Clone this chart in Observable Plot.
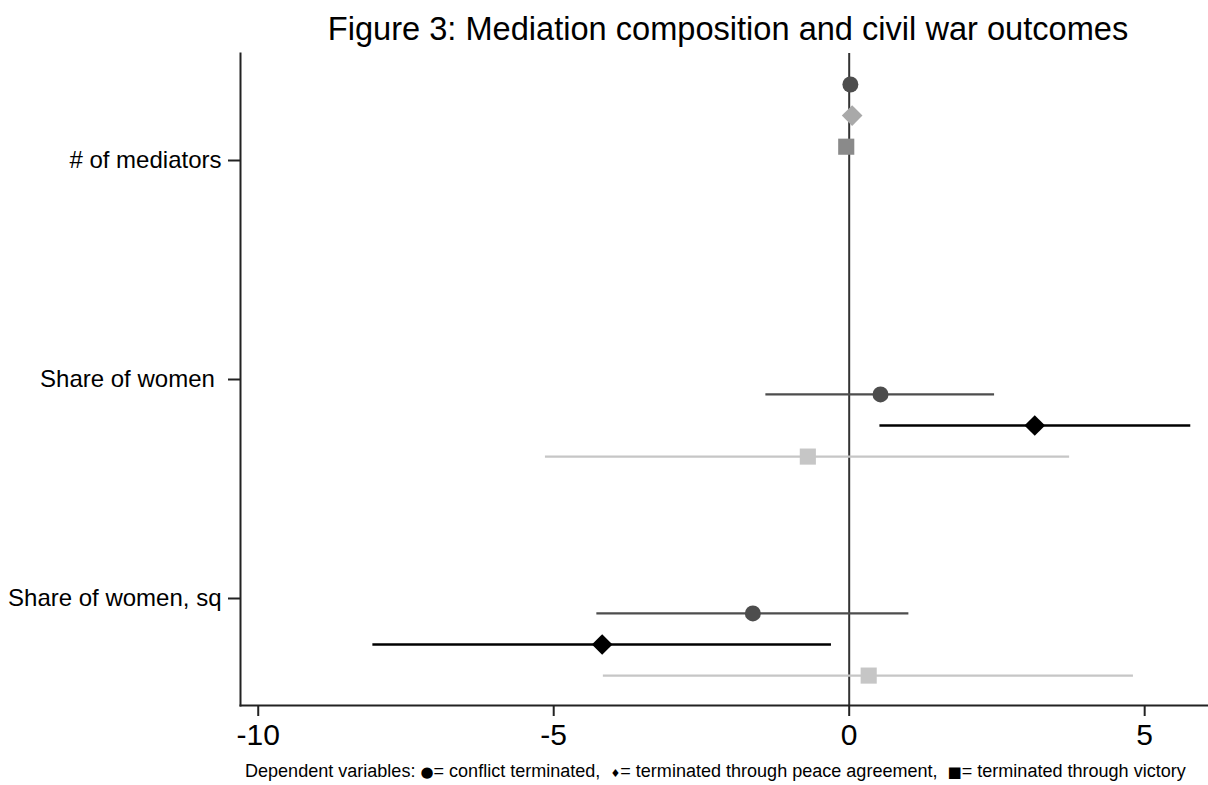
<!DOCTYPE html>
<html>
<head>
<meta charset="utf-8">
<script src="https://cdn.jsdelivr.net/npm/d3@7"></script>
<script src="https://cdn.jsdelivr.net/npm/@observablehq/plot@0.6"></script>
<style>
  html, body { margin: 0; padding: 0; background: #fff; }
  #wrap { position: relative; width: 1208px; height: 785px; overflow: hidden; font-family: "Liberation Sans", Arial, Helvetica, sans-serif; color: #000; }
  #title { position: absolute; top: 13px; left: 244px; width: 968px; text-align: center; font-size: 32.6px; line-height: 32px; white-space: nowrap; }
  #chart { position: absolute; top: 0; left: 0; }
  #caption { position: absolute; top: 762px; left: 245px; font-size: 18.05px; line-height: 18px; white-space: pre; }
  #caption .sym { font-family: "DejaVu Sans", sans-serif; font-size: 15px; }
</style>
</head>
<body>
<div id="wrap">
  <div id="chart"></div>
  <div id="title">Figure 3: Mediation composition and civil war outcomes</div>
  <div id="caption">Dependent variables: <span class="sym">●</span>= conflict terminated,  <span class="sym" style="font-size:11px">♦</span>= terminated through peace agreement,  <span class="sym">■</span>= terminated through victory</div>
</div>
<script>
// ---- data (coefficients and confidence intervals) ----
const terms = ["# of mediators", "Share of women\u00a0", "Share of women, sq"];
const outcomes = ["conflict terminated", "terminated through peace agreement", "terminated through victory"];

const coefConflict = [0.02, 0.53, -1.63];
const loConflict   = [-0.01, -1.41, -4.27];
const hiConflict   = [0.05, 2.46, 1.01];

const coefPeace = [0.05, 3.14, -4.18];
const loPeace   = [0.02, 0.52, -8.06];
const hiPeace   = [0.08, 5.78, -0.30];

const coefVictory = [-0.05, -0.70, 0.33];
const loVictory   = [-0.08, -5.14, -4.16];
const hiVictory   = [-0.02, 3.73, 4.81];

const xTicks = [-10, -5, 0, 5];
const xTickLabels = ["-10", "-5", "0", "5"];

// ---- layout / style (not data) ----
const seriesOffset = [0.068, 0.21, 0.352];      // vertical stacking of the three models within a term
const rowShift = [-0.415, 0, 0];                 // coefplot placement of the first term
const symbols = ["circle", "diamond2", "square"];
const radii = [8, 9.3, 9.1];
const colors = [
  ["#4d4d4d", "#a9a9a9", "#8a8a8a"],
  ["#4d4d4d", "#000000", "#c6c6c6"],
  ["#4d4d4d", "#000000", "#c6c6c6"]
];

const series = [
  {coef: coefConflict, lo: loConflict, hi: hiConflict},
  {coef: coefPeace, lo: loPeace, hi: hiPeace},
  {coef: coefVictory, lo: loVictory, hi: hiVictory}
];

const points = [];
terms.forEach((t, i) => {
  series.forEach((s, k) => {
    points.push({
      term: t, outcome: outcomes[k], k,
      est: s.coef[i], lo: s.lo[i], hi: s.hi[i],
      pos: (i + 1) + rowShift[i] + seriesOffset[k],
      col: colors[i][k]
    });
  });
});

const chart = Plot.plot({
  width: 1208,
  height: 760,
  marginLeft: 240,
  marginRight: 0,
  marginTop: 53,
  marginBottom: 55,
  style: {fontFamily: '"Liberation Sans", Arial, Helvetica, sans-serif', color: "#000", background: "#fff", overflow: "visible"},
  x: {domain: [-10.3, 6.08]},
  y: {domain: [0.5114, 3.4886], reverse: true},
  color: {type: "identity"},
  marks: [
    Plot.ruleX([0], {stroke: "#333", strokeWidth: 2}),
    Plot.ruleY(points, {y: "pos", x1: "lo", x2: "hi", stroke: "col", strokeWidth: 2.3}),
    ...symbols.map((sym, k) =>
      Plot.dot(points.filter(d => d.k === k), {x: "est", y: "pos", symbol: sym, r: radii[k], fill: "col", stroke: null})
    ),
    Plot.frame({anchor: "left", stroke: "#222", strokeWidth: 2}),
    Plot.frame({anchor: "bottom", stroke: "#222", strokeWidth: 2}),
    Plot.axisX({ticks: xTicks, tickFormat: (d) => xTickLabels[xTicks.indexOf(d)], tickSize: 11, tickPadding: 7, fontSize: 30, strokeWidth: 2, stroke: "#222", label: null}),
    Plot.axisY({ticks: [1, 2, 3], tickFormat: (d) => terms[d - 1], tickSize: 12, tickPadding: 7, fontSize: 24, strokeWidth: 2, stroke: "#222", label: null})
  ]
});
document.getElementById("chart").appendChild(chart);
</script>
</body>
</html>
